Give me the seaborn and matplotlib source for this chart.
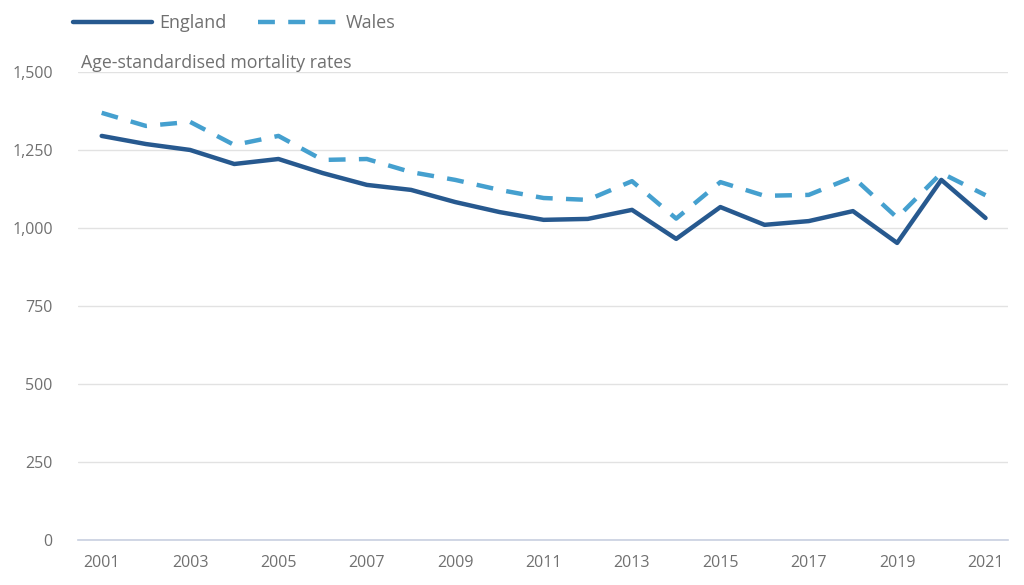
import matplotlib
matplotlib.use("Agg")
import matplotlib.pyplot as plt
import seaborn as sns
import pandas as pd
import numpy as np

years = list(range(2001, 2022))
england = [1295, 1269, 1250, 1205, 1221, 1176, 1138, 1122, 1083, 1051, 1026,
           1029, 1058, 965, 1067, 1010, 1022, 1054, 952, 1154, 1032]
wales = [1369, 1327, 1340, 1266, 1295, 1218, 1221, 1179, 1154, 1122, 1096,
         1090, 1150, 1030, 1147, 1103, 1106, 1163, 1033, 1176, 1105]
x_ticks = list(range(2001, 2022, 2))
y_ticks = [0, 250, 500, 750, 1000, 1250, 1500]

sns.set_theme(style="white")
plt.rcParams['font.family'] = ['Open Sans', 'DejaVu Sans']

df = pd.DataFrame({"year": years * 2,
                   "rate": england + wales,
                   "country": ["England"] * len(years) + ["Wales"] * len(years)})

fig = plt.figure(figsize=(10.24, 5.85), dpi=100)
ax = fig.add_axes([0.076, 0.077, 0.908, 0.800])

eng_col = "#27598f"
wal_col = "#45a0cf"
palette = {"England": eng_col, "Wales": wal_col}
sns.lineplot(data=df, x="year", y="rate", hue="country", style="country",
             palette=palette, dashes={"England": "", "Wales": (3.8, 3.0)},
             linewidth=3.2, ax=ax, legend=False)

ax.set_xlim(2000.46, 2021.5)
ax.set_ylim(0, 1500)
ax.set_xticks(x_ticks)
ax.set_yticks(y_ticks)
ax.set_yticklabels([f"{v:,}" for v in y_ticks])
ax.set_xlabel("")
ax.set_ylabel("")
ax.grid(axis="y", color="#e2e2e2", linewidth=1)
ax.set_axisbelow(True)
for s in ["top", "right", "left"]:
    ax.spines[s].set_visible(False)
ax.spines["bottom"].set_color("#c8d0e0")
ax.spines["bottom"].set_linewidth(1.2)
ax.tick_params(axis="x", length=8, width=1, color="#c8d0e0", labelsize=11.5,
               labelcolor="#707070", pad=3)
ax.tick_params(axis="y", length=0, labelsize=11.5, labelcolor="#707070", pad=18)

ax.text(0.003, 1.009, "Age-standardised mortality rates", transform=ax.transAxes,
        fontsize=12.8, color="#707070", ha="left", va="baseline")

# legend drawn in figure coords
fig.add_artist(plt.Line2D([0.071, 0.148], [0.962, 0.962], color=eng_col,
                          linewidth=3.2, transform=fig.transFigure))
fig.text(0.156, 0.960, "England", fontsize=13, color="#707070", va="center")
fig.add_artist(plt.Line2D([0.252, 0.330], [0.962, 0.962], color=wal_col,
                          linewidth=3.2, dashes=(3.8, 3.0), transform=fig.transFigure))
fig.text(0.338, 0.960, "Wales", fontsize=13, color="#707070", va="center")

fig.savefig("out.png", dpi=100, facecolor="white")
